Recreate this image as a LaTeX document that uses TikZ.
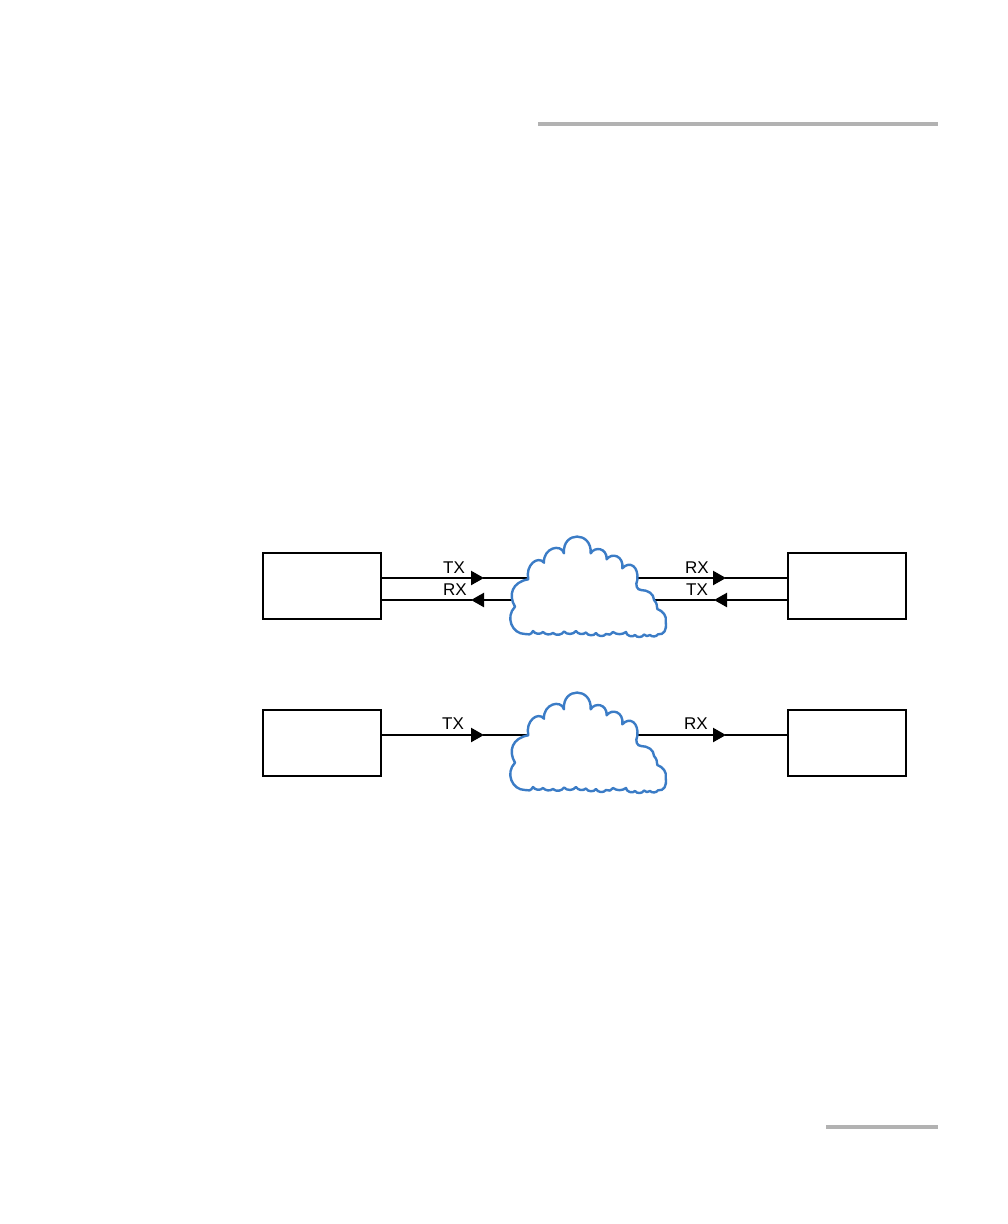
\documentclass[tikz,border=0pt]{standalone}
\usepackage{fontspec}
\setmainfont{Liberation Sans}
\usetikzlibrary{calc,arrows.meta,positioning}
\definecolor{cloudx}{HTML}{3B7CC6}
\definecolor{rulex}{HTML}{B2B2B2}
\tikzset{
  box/.style={draw=black,line width=2.3pt,fill=white,minimum width=118pt,minimum height=66pt,inner sep=0pt},
  ar/.style={-{Triangle[length=13pt,width=14pt]},line width=2.3pt,black,shorten >=-1pt},
  ln/.style={line width=2.3pt,black},
  lab/.style={font=\fontsize{17}{18}\selectfont,inner sep=0pt},
  hd/.style={line width=4pt,rulex},
  netcloud/.pic={
    \draw[line width=2.4pt,cloudx,fill=white,line join=round]
      (528.3,579.3) .. controls (525,565) and (538,555) .. (544,562.7)
      .. controls (543,548) and (561,543) .. (564,553.3)
      .. controls (562,531) and (592,531) .. (590.7,553.3)
      .. controls (595,546) and (607,548) .. (606.7,559.3)
      .. controls (612,552) and (624,556) .. (622.3,568.3)
      .. controls (630,560) and (639,567) .. (637.3,580)
      .. controls (635,585) and (637,590) .. (641,590)
      .. controls (648,590) and (654,594) .. (654,600)
      .. controls (657,603) and (657,606) .. (657.3,609)
      .. controls (663,611) and (667,616) .. (665.7,621.7)
      .. controls (667,630) and (664,635) .. (658,634.3)
      to[bend left=50] (650,635) to[bend left=50] (644,634.5)
      to[bend left=60] (635,635) to[bend left=70] (626,632)
      to[bend left=35] (613,632) to[bend left=50] (606,634)
      to[bend left=60] (596,633) to[bend left=60] (586,632.5)
      to[bend left=50] (576,631) to[bend left=50] (564,631.5)
      to[bend left=50] (553,633) to[bend left=40] (543,632)
      to[bend left=50] (533,631)
      .. controls (531,635) and (528,635) .. (525,634)
      .. controls (512,634) and (505,617) .. (515,606.7)
      .. controls (508,595) and (512,582) .. (528.3,579.3) -- cycle;
  }
}
\begin{document}
\begin{tikzpicture}[x=1pt,y=-1pt]
\useasboundingbox (0,0) rectangle (1008,1224);
% page rules
\draw[hd] (538,124)--(938,124);
\draw[hd] (826,1127)--(938,1127);
% upper link
\node[box] (boxA) at (322,586) {};
\node[box] (boxB) at (847,586) {};
\coordinate (upA) at ($(boxA.east)+(0,-8)$);
\coordinate (loA) at ($(boxA.east)+(0,14)$);
\coordinate (upB) at ($(boxB.west)+(0,-8)$);
\coordinate (loB) at ($(boxB.west)+(0,14)$);
\coordinate (tipA) at (483,578);
\coordinate (tipB) at (725,578);
\coordinate (tipC) at (472,600);
\coordinate (tipD) at (715,600);
\draw[ar] (upA)--(tipA);
\draw[ar] (tipA)--(tipB);
\draw[ln] (tipB)--(upB);
\draw[ar] (loB)--(tipD);
\draw[ar] (tipD)--(tipC);
\draw[ln] (tipC)--(loA);
\pic at (0,0) {netcloud};
\node[lab] (txA) at (454,568) {TX};
\node[lab] (rxA) at (455,590) {RX};
\node[lab] (rxB) at (697,568) {RX};
\node[lab] (txB) at (697,590) {TX};
% lower link
\node[box] (boxC) at (322,743) {};
\node[box] (boxD) at (847,743) {};
\coordinate (upC) at ($(boxC.east)+(0,-8)$);
\coordinate (upD) at ($(boxD.west)+(0,-8)$);
\coordinate (tipE) at (483,735);
\coordinate (tipF) at (725,735);
\draw[ar] (upC)--(tipE);
\draw[ar] (tipE)--(tipF);
\draw[ln] (tipF)--(upD);
\pic at (0,156) {netcloud};
\node[lab] (txC) at (453,724) {TX};
\node[lab] (rxC) at (696,724) {RX};
\end{tikzpicture}
\end{document}
